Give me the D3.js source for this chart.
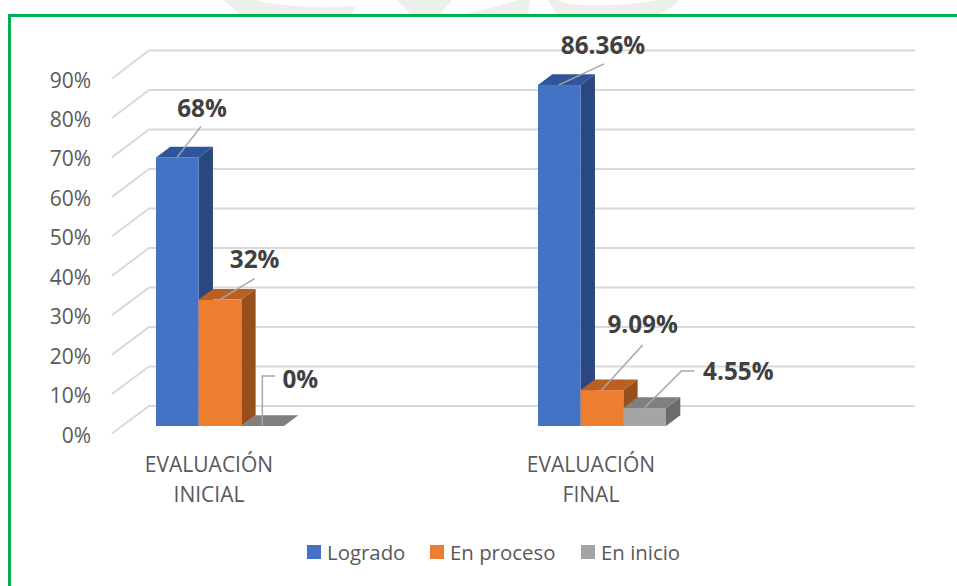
<!DOCTYPE html>
<html>
<head>
<meta charset="utf-8">
<script src="https://cdnjs.cloudflare.com/ajax/libs/d3/7.8.5/d3.min.js"></script>
<style>
  html, body { margin: 0; padding: 0; background: #fff; }
  svg { display: block; }
  text { font-family: "Open Sans", "Noto Sans", sans-serif; }
</style>
</head>
<body>
<svg id="chart" width="957" height="586"></svg>
<script>
const categories = ['EVALUACIÓN INICIAL', 'EVALUACIÓN FINAL'];
const categoryLines = [['EVALUACIÓN', 'INICIAL'], ['EVALUACIÓN', 'FINAL']];
const seriesNames = ['Logrado', 'En proceso', 'En inicio'];
const logrado = [68, 86.36];
const enProceso = [32, 9.09];
const enInicio = [0, 4.55];
const valueLabels = [['68%', '86.36%'], ['32%', '9.09%'], ['0%', '4.55%']];
const tickValues = [0, 10, 20, 30, 40, 50, 60, 70, 80, 90];

const colors = { front: ['#4472c4', '#ed7d31', '#a5a5a5'], top: ['#31559a', '#b85f22', '#7f7f7f'], side: ['#2a4880', '#97501d', '#6c6c6c'] };
const seriesValues = [logrado, enProceso, enInicio];

const svg = d3.select('#chart');

// faint watermark behind the frame, only its lower edge shows
svg.append('path')
  .attr('d', 'M223,0 L240,14 L352,14 L356,6 Q310,10 262,2 L258,0 Z M397,0 L410,14 L440,14 L452,0 Z M530,0 L528,14 L465,14 Q500,6 518,0 Z M548,0 L556,14 L660,14 Q672,8 680,0 L660,0 Q610,8 570,4 L556,0 Z')
  .attr('fill', '#edefeb');

// green frame, open at the right and bottom
svg.append('path')
  .attr('d', 'M9.5,586 V15.5 H957')
  .attr('fill', 'none')
  .attr('stroke', '#00b050')
  .attr('stroke-width', 3);

// front plane and back wall share the unit, back wall is shifted
const yFront = d3.scaleLinear().domain([0, 90]).range([426, 70.5]);
const yBack = d3.scaleLinear().domain([0, 90]).range([406, 50.5]);
const yLeft = d3.scaleLinear().domain([0, 90]).range([433.5, 78.5]);
const depth = { x: 14.3, y: -10.7 };

const xGroup = d3.scaleBand().domain(categories).range([29, 793]);
const xBar = d3.scaleBand().domain(seriesNames).range([0, 128]);
const groupLeft = c => xGroup(c) + xGroup.bandwidth() / 2 - 64;

// gridlines on floor side and back wall
svg.append('g').selectAll('path').data(tickValues).join('path')
  .attr('d', v => `M112,${yLeft(v)} L149,${yBack(v)} H915`)
  .attr('fill', 'none')
  .attr('stroke', '#d9d9d9')
  .attr('stroke-width', 2);

// y tick labels
svg.append('g').selectAll('text').data(tickValues).join('text')
  .attr('x', 91)
  .attr('y', v => yLeft(v) + 9)
  .attr('text-anchor', 'end')
  .attr('font-size', 21)
  .attr('fill', '#595959')
  .text(v => v + '%');

// bars, left to right so each one covers the side of the previous
const bars = svg.append('g');
categories.forEach((c, ci) => {
  seriesNames.forEach((s, si) => {
    const v = seriesValues[si][ci];
    const x0 = groupLeft(c) + xBar(s);
    const x1 = x0 + xBar.bandwidth();
    const yt = yFront(v);
    const yb = yFront(0);
    const g = bars.append('g');
    g.append('path')
      .attr('d', `M${x1},${yt} L${x1 + depth.x},${yt + depth.y} V${yb + depth.y} L${x1},${yb} Z`)
      .attr('fill', colors.side[si]);
    g.append('path')
      .attr('d', `M${x0},${yt} L${x0 + depth.x},${yt + depth.y} H${x1 + depth.x} L${x1},${yt} Z`)
      .attr('fill', colors.top[si]);
    g.append('rect')
      .attr('x', x0).attr('y', yt)
      .attr('width', xBar.bandwidth()).attr('height', yb - yt)
      .attr('fill', colors.front[si]);
  });
});

// value labels: text position offset from bar top and its leader line
const labelOffsets = [
  [{ dx: 46, dy: -40, line: [[21, 0], [45, -31]] }, { dx: 65, dy: -31, line: [[21, 0], [66, -21]] }],
  [{ dx: 56, dy: -32, line: [[21, 0], [56, -21]] }, { dx: 62, dy: -57, line: [[21, 0], [62, -45]] }],
  [{ dx: 59, dy: -38, line: [[21, 0], [21, -50], [34, -50]] }, { dx: 115, dy: -28, line: [[21, 0], [58, -37], [71, -37]] }]
];
categories.forEach((c, ci) => {
  seriesNames.forEach((s, si) => {
    const v = seriesValues[si][ci];
    const x0 = groupLeft(c) + xBar(s);
    const yt = yFront(v);
    const o = labelOffsets[si][ci];
    svg.append('path')
      .attr('d', d3.line()(o.line.map(p => [x0 + p[0], yt + p[1]])))
      .attr('fill', 'none')
      .attr('stroke', '#a6a6a6')
      .attr('stroke-width', 1.5);
    svg.append('text')
      .attr('x', x0 + o.dx)
      .attr('y', yt + o.dy)
      .attr('text-anchor', 'middle')
      .attr('font-size', 24.3)
      .attr('font-weight', 700)
      .attr('fill', '#404040')
      .text(valueLabels[si][ci]);
  });
});

// category labels
categoryLines.forEach((lines, ci) => {
  const cx = xGroup(categories[ci]) + xGroup.bandwidth() / 2 - 11;
  lines.forEach((t, li) => {
    svg.append('text')
      .attr('x', cx)
      .attr('y', 472 + li * 30)
      .attr('text-anchor', 'middle')
      .attr('font-size', 21)
      .attr('fill', '#595959')
      .text(t);
  });
});

// legend
const legendX = [307, 430, 581];
seriesNames.forEach((s, i) => {
  svg.append('rect')
    .attr('x', legendX[i]).attr('y', 545)
    .attr('width', 14).attr('height', 14)
    .attr('fill', colors.front[i]);
  svg.append('text')
    .attr('x', legendX[i] + 20).attr('y', 560)
    .attr('font-size', 20.4)
    .attr('fill', '#595959')
    .text(s);
});
</script>
</body>
</html>
